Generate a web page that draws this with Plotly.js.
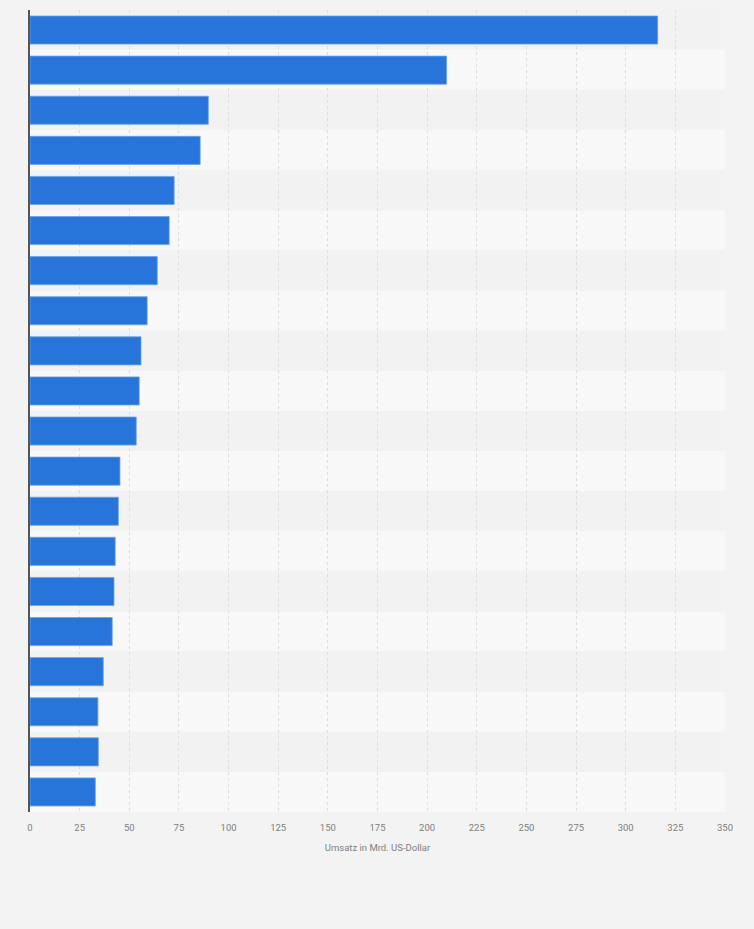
<!DOCTYPE html>
<html>
<head>
<meta charset="utf-8">
<script src="https://cdn.plot.ly/plotly-3.0.1.min.js"></script>
<style>
  html, body { margin: 0; padding: 0; background: #f3f3f3; }
  #chart { width: 754px; height: 929px; }
</style>
</head>
<body>
<div id="chart"></div>
<script>
// Ranks (category labels are not shown in the reference)
const categories = ["1", "2", "3", "4", "5", "6", "7", "8", "9", "10",
                    "11", "12", "13", "14", "15", "16", "17", "18", "19", "20"];
// Umsatz in Mrd. US-Dollar
const revenue = [316.1, 209.8, 89.8, 85.7, 72.6, 70.1, 64.1, 59.0, 55.9, 55.0,
                 53.5, 45.3, 44.5, 42.9, 42.3, 41.4, 36.9, 34.2, 34.4, 32.9];
const tickValues = [0, 25, 50, 75, 100, 125, 150, 175, 200, 225, 250, 275, 300, 325, 350];
const xTitle = "Umsatz in Mrd. US-Dollar";

const bandShapes = categories.map((c, i) => ({
  type: "rect", xref: "paper", yref: "y", layer: "below",
  x0: 0, x1: 1, y0: i - 0.5, y1: i + 0.5,
  fillcolor: i % 2 === 0 ? "#f2f2f2" : "#f8f8f8",
  line: { width: 0 }
}));

const trace = {
  type: "bar",
  orientation: "h",
  y: categories,
  x: revenue,
  marker: { color: "#2775db", line: { color: "#6aa2ea", width: 0.8 } },
  hoverinfo: "x"
};

const layout = {
  width: 754, height: 929,
  margin: { l: 30, r: 29, t: 10, b: 117 },
  paper_bgcolor: "#f3f3f3",
  plot_bgcolor: "#f3f3f3",
  bargap: 0.3,
  showlegend: false,
  font: { family: "Roboto, 'Liberation Sans', sans-serif", color: "#777777", size: 10 },
  xaxis: {
    range: [0, 350],
    tickvals: tickValues,
    ticktext: tickValues.map(String),
    showgrid: true,
    gridcolor: "#dddddd",
    griddash: "dot",
    gridwidth: 1,
    zeroline: false,
    showline: false,
    ticks: "",
    ticklabelstandoff: 8,
    tickfont: { size: 9.5, color: "#808080" },
    title: { text: xTitle, font: { size: 9.5, color: "#808080" }, standoff: 12 },
    fixedrange: true
  },
  yaxis: {
    type: "category",
    autorange: "reversed",
    showticklabels: false,
    showgrid: false,
    zeroline: false,
    showline: true,
    linecolor: "#555555",
    linewidth: 2,
    ticks: "",
    fixedrange: true
  },
  shapes: bandShapes
};

Plotly.newPlot("chart", [trace], layout, { displayModeBar: false, staticPlot: true });
</script>
</body>
</html>
